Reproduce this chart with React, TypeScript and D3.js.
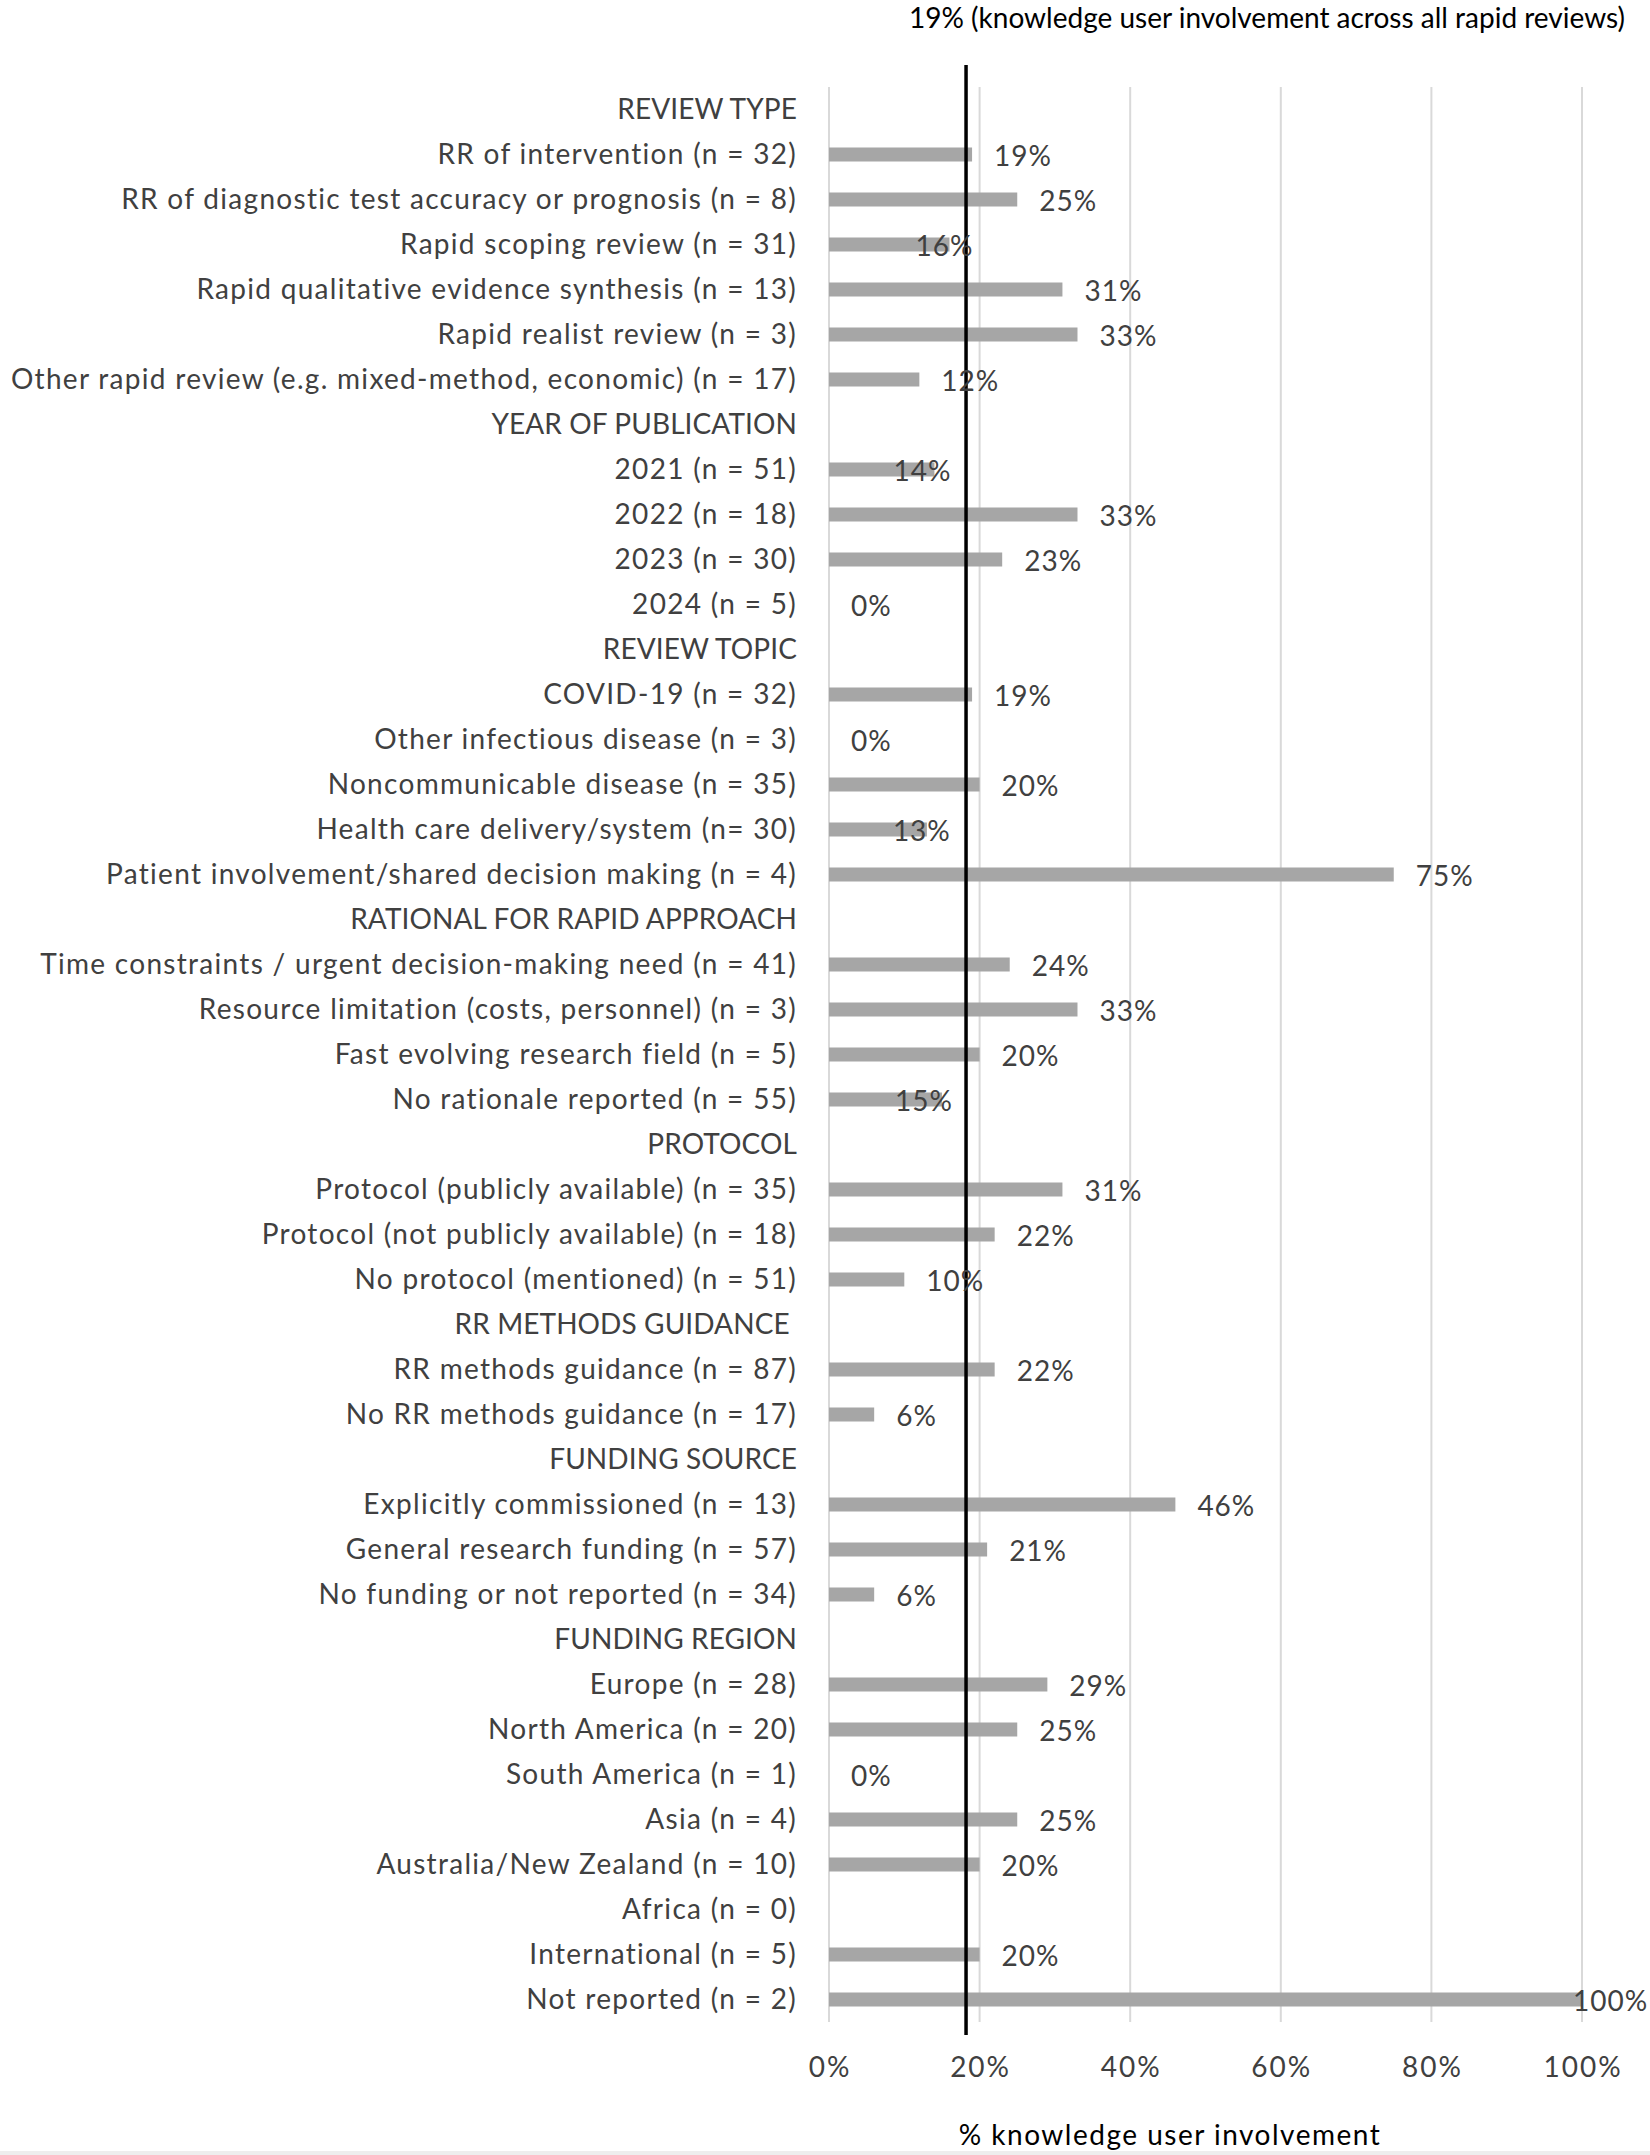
import React from "react";
import * as d3 from "d3";

const categories: string[] = [
  "REVIEW TYPE",
  "RR of intervention (n = 32)",
  "RR of diagnostic test accuracy or prognosis (n = 8)",
  "Rapid scoping review (n = 31)",
  "Rapid qualitative evidence synthesis (n = 13)",
  "Rapid realist review (n = 3)",
  "Other rapid review (e.g. mixed-method, economic) (n = 17)",
  "YEAR OF PUBLICATION",
  "2021 (n = 51)",
  "2022 (n = 18)",
  "2023 (n = 30)",
  "2024 (n = 5)",
  "REVIEW TOPIC",
  "COVID-19 (n = 32)",
  "Other infectious disease (n = 3)",
  "Noncommunicable disease (n = 35)",
  "Health care delivery/system (n= 30)",
  "Patient involvement/shared decision making (n = 4)",
  "RATIONAL FOR RAPID APPROACH",
  "Time constraints / urgent decision-making need (n = 41)",
  "Resource limitation (costs, personnel) (n = 3)",
  "Fast evolving research field (n = 5)",
  "No rationale reported (n = 55)",
  "PROTOCOL",
  "Protocol (publicly available) (n = 35)",
  "Protocol (not publicly available) (n = 18)",
  "No protocol (mentioned) (n = 51)",
  "RR METHODS GUIDANCE ",
  "RR methods guidance (n = 87)",
  "No RR methods guidance (n = 17)",
  "FUNDING SOURCE",
  "Explicitly commissioned (n = 13)",
  "General research funding (n = 57)",
  "No funding or not reported (n = 34)",
  "FUNDING REGION",
  "Europe (n = 28)",
  "North America (n = 20)",
  "South America (n = 1)",
  "Asia (n = 4)",
  "Australia/New Zealand (n = 10)",
  "Africa (n = 0)",
  "International (n = 5)",
  "Not reported (n = 2)",
];

// null = heading row or no data (no bar, no label)
const values: (number | null)[] = [
  null, 0.19, 0.25, 0.16, 0.31, 0.33, 0.12,
  null, 0.14, 0.33, 0.23, 0.0,
  null, 0.19, 0.0, 0.2, 0.13, 0.75,
  null, 0.24, 0.33, 0.2, 0.15,
  null, 0.31, 0.22, 0.1,
  null, 0.22, 0.06,
  null, 0.46, 0.21, 0.06,
  null, 0.29, 0.25, 0.0, 0.25, 0.2, null, 0.2, 1.0,
];

const overallValue = 0.182;
const overallLabel = "19% (knowledge user involvement across all rapid reviews)";
const tickValues: number[] = [0, 0.2, 0.4, 0.6, 0.8, 1.0];
const axisTitle = "% knowledge user involvement";

// manual label displacements (px) as in the reference
const labelNudge: Record<string, number> = {
  "Rapid scoping review (n = 31)": -56,
  "2021 (n = 51)": -63,
  "Health care delivery/system (n= 30)": -56,
  "No rationale reported (n = 55)": -69,
  "Not reported (n = 2)": -31,
};

const W = 1650;
const H = 2155;
const FONT = "Lato, 'Open Sans', sans-serif";
const TXT = "#404040";

export default function App() {
  const x = d3.scaleLinear().domain([0, 1]).range([829, 1582]);
  const y = d3.scaleBand<string>().domain(categories).range([87, 2022]);
  const bw = y.bandwidth();
  const barH = 14;
  const fmt = d3.format(".0%");
  const fs = 28;

  return (
    <svg
      width={W}
      height={H}
      style={{ position: "absolute", left: 0, top: 0, background: "#fff" }}
      fontFamily={FONT}
    >
      <rect x={0} y={0} width={W} height={H} fill="#fff" />
      {/* gridlines */}
      {tickValues.map((t) => (
        <line
          key={"g" + t}
          x1={x(t)}
          x2={x(t)}
          y1={87}
          y2={2022}
          stroke="#D9D9D9"
          strokeWidth={2}
        />
      ))}
      {/* bars */}
      {categories.map((c, i) => {
        const v = values[i];
        if (v === null || v === 0) return null;
        return (
          <rect
            key={"b" + i}
            x={x(0)}
            y={(y(c) as number) + bw / 2 - barH / 2}
            width={x(v) - x(0)}
            height={barH}
            fill="#A6A6A6"
          />
        );
      })}
      {/* category labels */}
      {categories.map((c) => {
        const heading = c === c.toUpperCase() && /[A-Z]/.test(c) && !/\(/.test(c);
        return (
          <text
            key={"c" + c}
            x={797}
            y={(y(c) as number) + bw / 2}
            dy="0.35em"
            textAnchor="end"
            fontSize={fs}
            fill={TXT}
            letterSpacing={heading ? 0.1 : 1.3}
            style={{ whiteSpace: "pre" }}
          >
            {c}
          </text>
        );
      })}
      {/* reference line */}
      <line
        x1={x(overallValue)}
        x2={x(overallValue)}
        y1={65}
        y2={2035}
        stroke="#000"
        strokeWidth={3.5}
      />
      {/* value labels */}
      {categories.map((c, i) => {
        const v = values[i];
        if (v === null) return null;
        return (
          <text
            key={"v" + i}
            x={x(v) + 22 + (labelNudge[c] || 0)}
            y={(y(c) as number) + bw / 2 + 2}
            dy="0.35em"
            fontSize={fs}
            fill={TXT}
            letterSpacing={1}
          >
            {fmt(v)}
          </text>
        );
      })}
      {/* tick labels */}
      {tickValues.map((t) => (
        <text
          key={"t" + t}
          x={x(t) + 1}
          y={2067}
          dy="0.35em"
          textAnchor="middle"
          fontSize={fs}
          fill={TXT}
          letterSpacing={2}
        >
          {fmt(t)}
        </text>
      ))}
      <text
        x={1170}
        y={2135}
        dy="0.35em"
        textAnchor="middle"
        fontSize={fs}
        fill="#000"
        letterSpacing={1.5}
      >
        {axisTitle}
      </text>
      <text x={1625} y={18} dy="0.35em" textAnchor="end" fontSize={fs} fill="#000">
        {overallLabel}
      </text>
      <rect x={0} y={2151} width={W} height={4} fill="#EEEEEE" />
    </svg>
  );
}
